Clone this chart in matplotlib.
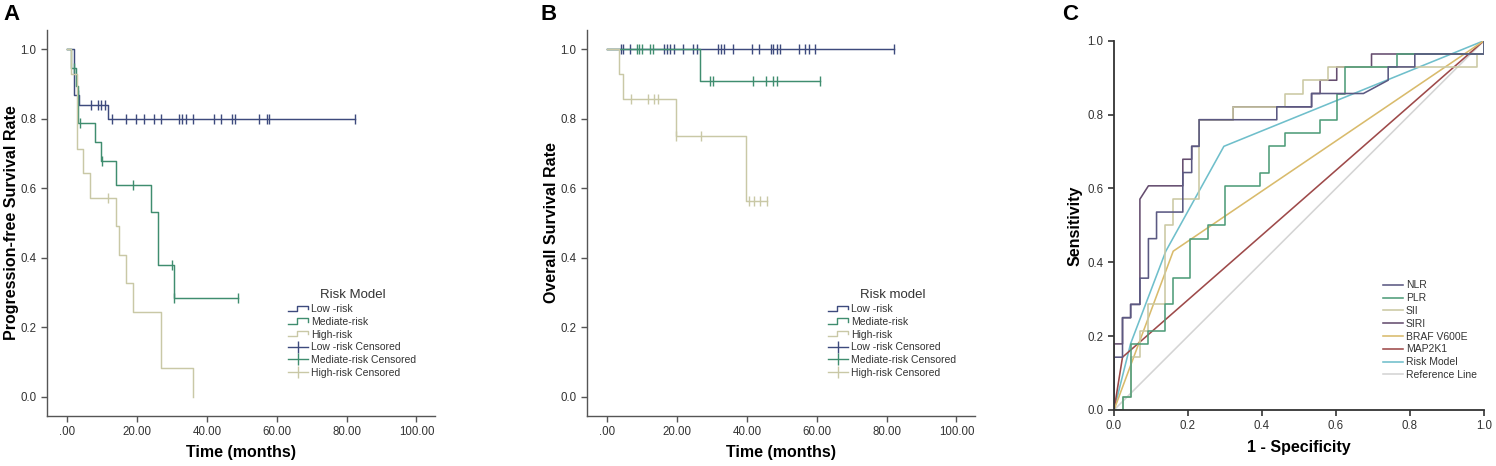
import numpy as np
import matplotlib
matplotlib.use("Agg")
import matplotlib.pyplot as plt
from matplotlib.lines import Line2D

plt.rcParams['font.family'] = ['Liberation Sans', 'DejaVu Sans']

# ---- Panel A: progression-free survival (step times / survival after step / censor times)
pfs_low_t = [0, 1.8, 3.3, 11.7]
pfs_low_s = [1.0, 0.867, 0.84, 0.80]
pfs_low_c = [3.0, 6.7, 8.8, 9.7, 10.8, 12.8, 16.8, 19.8, 21.9, 24.9, 26.9, 32.0, 32.9,
             33.9, 35.9, 41.9, 43.9, 47.2, 47.9, 55.0, 57.1, 57.8, 82.3]
pfs_med_t = [0, 1.2, 2.4, 3.0, 7.9, 9.6, 13.9, 24.1, 25.9, 30.5]
pfs_med_s = [1.0, 0.947, 0.895, 0.789, 0.734, 0.677, 0.61, 0.533, 0.38, 0.284]
pfs_med_c = [2.0, 3.6, 10.0, 18.9, 29.9, 30.7, 49.0]
pfs_high_t = [0, 1.0, 2.7, 4.6, 6.5, 13.9, 14.8, 16.8, 18.9, 26.9, 35.9]
pfs_high_s = [1.0, 0.929, 0.714, 0.643, 0.571, 0.49, 0.408, 0.327, 0.245, 0.082, 0.0]
pfs_high_c = [11.8]

# ---- Panel B: overall survival
os_low_t = [0]
os_low_s = [1.0]
os_low_c = [3.9, 4.5, 6.6, 16.3, 17.0, 18.0, 19.1, 21.6, 24.5, 25.6, 31.8, 32.5, 33.4, 35.9,
            41.5, 43.5, 46.8, 47.5, 48.5, 49.4, 54.8, 56.7, 57.8, 59.5, 82.1]
os_med_t = [0, 26.6]
os_med_s = [1.0, 0.909]
os_med_c = [8.5, 9.2, 10.0, 12.3, 13.0, 29.4, 30.4, 41.6, 45.5, 47.5, 48.5, 61.0]
os_high_t = [0, 3.5, 4.6, 19.7, 39.8]
os_high_s = [1.0, 0.929, 0.857, 0.75, 0.5625]
os_high_c = [6.7, 11.6, 13.5, 14.5, 19.8, 26.7, 40.5, 41.9, 43.8, 45.7]

# ---- Panel C: ROC curves (1 - specificity, sensitivity)
nlr_fpr = [0, 0, 0.023, 0.023, 0.045, 0.045, 0.07, 0.07, 0.093, 0.093, 0.115, 0.115, 0.186,
           0.186, 0.21, 0.21, 0.23, 0.23, 0.44, 0.44, 0.534, 0.534, 0.674, 0.741, 0.741,
           0.813, 0.813, 1.0, 1.0]
nlr_tpr = [0, 0.143, 0.143, 0.25, 0.25, 0.286, 0.286, 0.357, 0.357, 0.464, 0.464, 0.536, 0.536,
           0.643, 0.643, 0.714, 0.714, 0.786, 0.786, 0.821, 0.821, 0.857, 0.857, 0.893, 0.929,
           0.929, 0.964, 0.964, 1.0]
plr_fpr = [0, 0.023, 0.023, 0.045, 0.045, 0.093, 0.093, 0.138, 0.138, 0.16, 0.16, 0.205, 0.205,
           0.255, 0.255, 0.30, 0.30, 0.395, 0.395, 0.419, 0.419, 0.462, 0.462, 0.557, 0.557,
           0.602, 0.602, 0.624, 0.624, 0.766, 0.766, 1.0, 1.0]
plr_tpr = [0, 0, 0.036, 0.036, 0.179, 0.179, 0.214, 0.214, 0.286, 0.286, 0.357, 0.357, 0.464,
           0.464, 0.5, 0.5, 0.607, 0.607, 0.643, 0.643, 0.714, 0.714, 0.75, 0.75, 0.786,
           0.786, 0.857, 0.857, 0.929, 0.929, 0.964, 0.964, 1.0]
sii_fpr = [0, 0.023, 0.023, 0.045, 0.045, 0.07, 0.07, 0.093, 0.093, 0.138, 0.138, 0.16, 0.16,
           0.23, 0.23, 0.322, 0.322, 0.462, 0.462, 0.512, 0.512, 0.579, 0.579, 0.98, 0.98,
           1.0, 1.0]
sii_tpr = [0, 0, 0.036, 0.036, 0.143, 0.143, 0.214, 0.214, 0.286, 0.286, 0.5, 0.5, 0.571,
           0.571, 0.786, 0.786, 0.821, 0.821, 0.857, 0.857, 0.893, 0.893, 0.929, 0.929, 0.964,
           0.964, 1.0]
siri_fpr = [0, 0, 0.023, 0.023, 0.045, 0.045, 0.07, 0.07, 0.093, 0.186, 0.186, 0.21, 0.21,
            0.23, 0.23, 0.322, 0.322, 0.534, 0.534, 0.557, 0.557, 0.602, 0.602, 0.696, 0.696,
            1.0, 1.0]
siri_tpr = [0, 0.179, 0.179, 0.25, 0.25, 0.286, 0.286, 0.571, 0.607, 0.607, 0.679, 0.679, 0.714,
            0.714, 0.786, 0.786, 0.821, 0.821, 0.857, 0.857, 0.893, 0.893, 0.929, 0.929, 0.964,
            0.964, 1.0]
braf_fpr = [0, 0.16, 1.0]
braf_tpr = [0, 0.43, 1.0]
map2k1_fpr = [0, 0.023, 1.0]
map2k1_tpr = [0, 0.143, 1.0]
risk_fpr = [0, 0.045, 0.14, 0.297, 1.0]
risk_tpr = [0, 0.18, 0.43, 0.714, 1.0]
ref_fpr = [0, 1.0]
ref_tpr = [0, 1.0]

C_LOW, C_MED, C_HIGH = '#3d4a7d', '#3f8d6f', '#c9c8a6'
AX_COL = '#555555'


class StepHandler:
    # legend glyph that looks like a small survival step
    def legend_artist(self, legend, orig_handle, fontsize, handlebox):
        x0, y0 = handlebox.xdescent, handlebox.ydescent
        w, h = handlebox.width, handlebox.height
        xs = [x0, x0 + 0.45 * w, x0 + 0.45 * w, x0 + w, x0 + w]
        ys = [y0 + 0.15 * h, y0 + 0.15 * h, y0 + 0.9 * h, y0 + 0.9 * h, y0 + 0.45 * h]
        ln = Line2D(xs, ys, color=orig_handle.get_color(), lw=1.0,
                    transform=handlebox.get_transform())
        handlebox.add_artist(ln)
        return ln


def km(ax, t, s, cens, color):
    t = list(t)
    s = list(s)
    if cens and max(cens) > t[-1]:
        t = t + [max(cens)]
        s = s + [s[-1]]
    ax.step(t, s, where='post', color=color, lw=1.05)
    idx = np.searchsorted(t, cens, side='right') - 1
    ax.plot(cens, np.array(s)[idx], ls='none', marker='|', ms=7, mew=1.0, color=color)


def km_axes(ax, ylabel, title, data, legend_xy):
    for t, s, c, col in data:
        km(ax, t, s, c, col)
    ax.set_xlim(-5.8, 105.3)
    ax.set_ylim(-0.055, 1.055)
    ax.set_xticks([0, 20, 40, 60, 80, 100])
    ax.set_xticklabels(['.00', '20.00', '40.00', '60.00', '80.00', '100.00'])
    ax.set_yticks([0, 0.2, 0.4, 0.6, 0.8, 1.0])
    ax.set_yticklabels(['0.0', '0.2', '0.4', '0.6', '0.8', '1.0'])
    for sp in ['top', 'right']:
        ax.spines[sp].set_visible(False)
    for sp in ['left', 'bottom']:
        ax.spines[sp].set_color(AX_COL)
        ax.spines[sp].set_linewidth(1.0)
    ax.tick_params(colors=AX_COL, labelcolor='#333333', labelsize=8.3, length=4, width=1.0)
    ax.set_xlabel('Time (months)', fontsize=11.5, fontweight='bold')
    ax.set_ylabel(ylabel, fontsize=11.5, fontweight='bold')
    ax.xaxis.set_label_coords(0.5, -0.075)
    ax.yaxis.set_label_coords(-0.072, 0.5)
    step_h = [Line2D([], [], color=col) for col in (C_LOW, C_MED, C_HIGH)]
    cens_h = [Line2D([], [], color=col, lw=1.0, marker='|', ms=8, mew=1.0)
              for col in (C_LOW, C_MED, C_HIGH)]
    labels = ['Low -risk', 'Mediate-risk', 'High-risk',
              'Low -risk Censored', 'Mediate-risk Censored', 'High-risk Censored']
    leg = ax.legend(step_h + cens_h, labels, title=title, loc='upper left',
                    bbox_to_anchor=legend_xy, bbox_transform=fig.transFigure,
                    frameon=False, fontsize=7.5, title_fontsize=9.5,
                    handlelength=1.9, handletextpad=0.3, labelspacing=0.26,
                    handler_map={h: StepHandler() for h in step_h})
    for txt in leg.get_texts():
        txt.set_color('#333333')
    leg.get_title().set_color('#333333')


fig = plt.figure(figsize=(14.96, 4.66), dpi=100)

axA = fig.add_axes([47 / 1496, 50 / 466, 388 / 1496, 386 / 466])
km_axes(axA, 'Progression-free Survival Rate', 'Risk Model',
        [(pfs_low_t, pfs_low_s, pfs_low_c, C_LOW),
         (pfs_med_t, pfs_med_s, pfs_med_c, C_MED),
         (pfs_high_t, pfs_high_s, pfs_high_c, C_HIGH)],
        (279 / 1496, 1 - 280 / 466))

axB = fig.add_axes([587 / 1496, 50 / 466, 388 / 1496, 386 / 466])
km_axes(axB, 'Overall Survival Rate', 'Risk model',
        [(os_low_t, os_low_s, os_low_c, C_LOW),
         (os_med_t, os_med_s, os_med_c, C_MED),
         (os_high_t, os_high_s, os_high_c, C_HIGH)],
        (819 / 1496, 1 - 280 / 466))

# ---- Panel C
axC = fig.add_axes([1114 / 1496, 56 / 466, 370 / 1496, 369.3 / 466])
roc = [
    ('NLR', nlr_fpr, nlr_tpr, '#5b5982'),
    ('PLR', plr_fpr, plr_tpr, '#4f9c79'),
    ('SII', sii_fpr, sii_tpr, '#cbc9a3'),
    ('SIRI', siri_fpr, siri_tpr, '#654d6f'),
    ('BRAF V600E', braf_fpr, braf_tpr, '#d9bb6c'),
    ('MAP2K1', map2k1_fpr, map2k1_tpr, '#9e4a4a'),
    ('Risk Model', risk_fpr, risk_tpr, '#6fbfcb'),
    ('Reference Line', ref_fpr, ref_tpr, '#d4d4d4'),
]
for name, fx, fy, col in reversed(roc):
    axC.plot(fx, fy, color=col, lw=1.15, label=name)
handles, labels = axC.get_legend_handles_labels()
legC = axC.legend(handles[::-1], labels[::-1], loc='upper left',
                  bbox_to_anchor=(1374 / 1496, 1 - 271 / 466), bbox_transform=fig.transFigure,
                  frameon=False, fontsize=7.5, handlelength=1.9, handletextpad=0.25,
                  labelspacing=0.27)
for txt in legC.get_texts():
    txt.set_color('#333333')
axC.set_xlim(0, 1)
axC.set_ylim(0, 1)
ticks = [0, 0.2, 0.4, 0.6, 0.8, 1.0]
axC.set_xticks(ticks)
axC.set_yticks(ticks)
axC.set_xticklabels(['0.0', '0.2', '0.4', '0.6', '0.8', '1.0'])
axC.set_yticklabels(['0.0', '0.2', '0.4', '0.6', '0.8', '1.0'])
for sp in ['top', 'right']:
    axC.spines[sp].set_visible(False)
for sp in ['left', 'bottom']:
    axC.spines[sp].set_color('#333333')
    axC.spines[sp].set_linewidth(1.3)
axC.tick_params(colors='#333333', labelsize=8.3, length=4, width=1.2)
axC.set_xlabel('1 - Specificity', fontsize=11.5, fontweight='bold')
axC.set_ylabel('Sensitivity', fontsize=11.5, fontweight='bold')
axC.xaxis.set_label_coords(0.5, -0.08)
axC.yaxis.set_label_coords(-0.086, 0.5)

# panel letters
for letter, xp in (('A', 3), ('B', 541), ('C', 1062)):
    fig.text(xp / 1496, 1 - 15 / 466, letter, fontsize=16, fontweight='bold', va='center')

fig.savefig('out.png', dpi=100)
